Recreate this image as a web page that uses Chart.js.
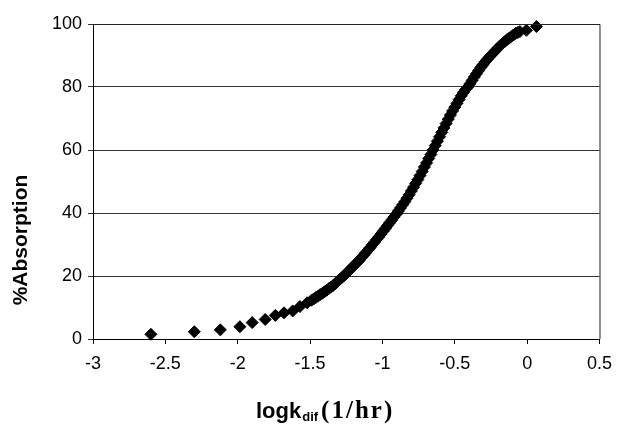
<!DOCTYPE html>
<html>
<head>
<meta charset="utf-8">
<script src="https://cdn.jsdelivr.net/npm/chart.js@4"></script>
<style>
  html, body { margin: 0; padding: 0; background: #fff; }
  #wrap { width: 621px; height: 426px; }
</style>
</head>
<body>
<div id="wrap"><canvas id="absChart" width="621" height="426"></canvas></div>
<script>
// logk_dif (1/hr) values
const logK = [
  -2.60, -2.30, -2.12, -1.985, -1.90, -1.81, -1.74, -1.68, -1.62, -1.57, -1.52,
  -1.49, -1.475, -1.46, -1.445, -1.43, -1.415, -1.40, -1.385, -1.37, -1.355,
  -1.34, -1.325, -1.31, -1.295, -1.28, -1.265, -1.25, -1.235, -1.22, -1.205,
  -1.19, -1.175, -1.16, -1.145, -1.13, -1.115, -1.10, -1.085, -1.07, -1.055,
  -1.04, -1.025, -1.01, -0.995, -0.98, -0.965, -0.95, -0.935, -0.92, -0.905,
  -0.89, -0.875, -0.86, -0.845, -0.83, -0.815, -0.80, -0.785, -0.77, -0.755,
  -0.74, -0.725, -0.71, -0.695, -0.68, -0.665, -0.65, -0.635, -0.62, -0.605,
  -0.59, -0.575, -0.56, -0.545, -0.53, -0.515, -0.50, -0.485, -0.47, -0.455,
  -0.44, -0.425, -0.41, -0.395, -0.38, -0.365, -0.35, -0.335, -0.32, -0.305,
  -0.29, -0.275, -0.26, -0.245, -0.23, -0.215, -0.20, -0.185, -0.17, -0.155,
  -0.14, -0.125, -0.11, -0.095, -0.08, -0.065, -0.05, -0.005, 0.064
];

// %Absorption values
const absorption = [
  1.5, 2.3, 2.9, 3.9, 5.2, 6.2, 7.5, 8.3, 8.9, 10.3, 11.5,
  12.3, 12.7, 13.2, 13.6, 14.1, 14.5, 15.0, 15.5, 16.0, 16.5,
  17.0, 17.6, 18.3, 18.9, 19.5, 20.1, 20.8, 21.5, 22.2, 22.9,
  23.6, 24.3, 25.0, 25.8, 26.6, 27.4, 28.2, 29.0, 29.9, 30.7,
  31.6, 32.4, 33.3, 34.2, 35.1, 36.0, 36.9, 37.8, 38.7, 39.6,
  40.6, 41.6, 42.6, 43.6, 44.7, 45.8, 47.0, 48.2, 49.4, 50.6,
  51.9, 53.2, 54.6, 55.9, 57.3, 58.6, 60.0, 61.4, 62.8, 64.2,
  65.6, 67.0, 68.4, 69.8, 71.1, 72.4, 73.6, 74.8, 76.0, 77.2,
  78.3, 79.2, 80.0, 81.0, 82.1, 83.2, 84.2, 85.2, 86.2, 87.1,
  88.0, 88.8, 89.6, 90.3, 91.0, 91.8, 92.5, 93.2, 93.8, 94.4,
  95.0, 95.5, 96.0, 96.5, 97.0, 97.3, 97.6, 98.0, 99.2
];

const xTicks = [-3, -2.5, -2, -1.5, -1, -0.5, 0, 0.5];
const yTicks = [0, 20, 40, 60, 80, 100];

const points = logK.map((x, i) => ({ x: x, y: absorption[i] }));

// box around plot + the axis titles (mixed fonts on the x title)
const frameAndTitles = {
  id: "frameAndTitles",
  afterDraw(chart) {
    const { ctx, chartArea: a } = chart;
    ctx.save();
    ctx.strokeStyle = "#222";
    ctx.lineWidth = 1;
    ctx.beginPath();
    ctx.moveTo(a.left, a.top + 0.5);
    ctx.lineTo(a.right + 0.5, a.top + 0.5);
    ctx.lineTo(a.right + 0.5, a.bottom);
    ctx.stroke();

    ctx.fillStyle = "#000";
    // y title
    ctx.save();
    ctx.translate(27, 240);
    ctx.rotate(-Math.PI / 2);
    ctx.font = "bold 21px 'Liberation Sans', Arial, sans-serif";
    ctx.textAlign = "center";
    ctx.textBaseline = "alphabetic";
    ctx.fillText("%Absorption", 0, 0);
    ctx.restore();

    // x title: logk + subscript dif + (1/hr)
    let x = 256;
    const base = 418;
    ctx.textAlign = "left";
    ctx.textBaseline = "alphabetic";
    ctx.font = "bold 22px 'Liberation Sans', Arial, sans-serif";
    ctx.fillText("logk", x, base);
    x += ctx.measureText("logk").width + 1;
    ctx.font = "bold 13px 'Liberation Sans', Arial, sans-serif";
    ctx.fillText("dif", x, base + 3);
    x += ctx.measureText("dif").width + 3;
    ctx.font = "bold 25px 'Liberation Serif', 'Times New Roman', serif";
    ctx.letterSpacing = "2px";
    ctx.fillText("(1/hr)", x, base);
    ctx.restore();
  }
};

new Chart(document.getElementById("absChart"), {
  type: "scatter",
  data: {
    datasets: [{
      label: "%Absorption",
      data: points,
      pointStyle: "rectRot",
      pointRadius: 6,
      pointHoverRadius: 6,
      backgroundColor: "#000",
      borderColor: "#000",
      borderWidth: 1,
      clip: false,
    }],
  },
  options: {
    responsive: false,
    animation: false,
    layout: { padding: { left: 0, right: 21, top: 24, bottom: 0 } },
    plugins: {
      legend: { display: false },
      tooltip: { enabled: false },
    },
    scales: {
      x: {
        type: "linear",
        min: -3,
        max: 0.5,
        afterFit(scale) { scale.height = 87; },
        afterBuildTicks(scale) { scale.ticks = xTicks.map(v => ({ value: v })); },
        grid: {
          drawOnChartArea: false,
          drawTicks: true,
          tickLength: 5,
          color: "#000",
        },
        border: { display: true, color: "#000", width: 1 },
        ticks: {
          color: "#000",
          padding: 9,
          maxRotation: 0,
          callback: v => String(v),
          font: { family: "'Liberation Sans', Arial, sans-serif", size: 18 },
        },
      },
      y: {
        min: 0,
        max: 100,
        afterFit(scale) { scale.width = 93; },
        afterBuildTicks(scale) { scale.ticks = yTicks.map(v => ({ value: v })); },
        grid: {
          drawOnChartArea: true,
          drawTicks: true,
          tickLength: 5,
          color: "#333",
        },
        border: { display: true, color: "#000", width: 1 },
        ticks: {
          color: "#000",
          padding: 6,
          callback: v => String(v),
          font: { family: "'Liberation Sans', Arial, sans-serif", size: 18 },
        },
      },
    },
  },
  plugins: [frameAndTitles],
});
</script>
</body>
</html>
